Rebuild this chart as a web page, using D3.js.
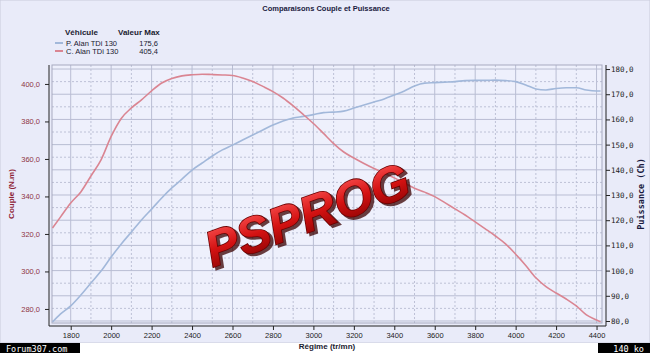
<!DOCTYPE html>
<html>
<head>
<meta charset="utf-8">
<script src="https://cdn.jsdelivr.net/npm/d3@7"></script>
<style>
  body { margin: 0; background: #e9ebf9; }
  svg { display: block; }
</style>
</head>
<body>
<div id="chart"></div>
<script>
// regime (tr/mn) and the two curves
const rpm = [1710, 1750, 1800, 1850, 1900, 1950, 2000, 2050, 2100, 2150, 2200, 2250, 2300, 2350, 2400, 2450, 2500,
    2550, 2600, 2650, 2700, 2750, 2800, 2850, 2900, 2950, 3000, 3050, 3100, 3150, 3200, 3250, 3300, 3350, 3400,
    3450, 3500, 3550, 3600, 3650, 3700, 3750, 3800, 3850, 3900, 3950, 4000, 4050, 4100, 4150, 4200, 4250, 4300,
    4350, 4400, 4420];
const couple = [323.2, 329.1, 336.5, 342.4, 350.9, 359.5, 372.0, 381.6, 387.2, 391.5, 396.3, 400.5, 402.9, 404.3,
    404.9, 405.2, 405.0, 404.8, 404.5, 403.2, 401.3, 398.7, 395.9, 392.5, 388.3, 383.7, 378.9, 373.6, 368.2, 363.7,
    360.5, 357.6, 354.9, 352.4, 349.9, 347.1, 344.4, 342.3, 339.9, 336.7, 333.4, 330.1, 326.4, 322.7, 318.9, 314.7,
    309.2, 303.2, 296.6, 291.9, 288.5, 285.3, 281.6, 276.8, 274.1, 273.1];
const puissance = [79.6, 82.8, 86.0, 90.3, 95.1, 99.8, 105.4, 110.6, 115.3, 120.1, 124.4, 128.8, 132.8, 136.3, 139.9,
    142.7, 145.5, 147.9, 149.8, 151.8, 153.8, 155.8, 157.8, 159.4, 160.6, 161.2, 161.9, 162.7, 162.9, 163.3, 164.5,
    165.7, 166.9, 168.1, 169.7, 171.3, 173.3, 174.4, 174.6, 174.8, 175.0, 175.4, 175.5, 175.5, 175.6, 175.4, 175.0,
    173.7, 172.1, 171.7, 172.3, 172.6, 172.6, 171.7, 171.3, 171.3];

const vehicules = ["P. Alan TDi 130", "C. Alan TDi 130"];
const valeursMax = ["175,6", "405,4"];

const coupleTicks = [280, 300, 320, 340, 360, 380, 400];
const puissanceTicks = [80, 90, 100, 110, 120, 130, 140, 150, 160, 170, 180];
const regimeTicks = [1800, 2000, 2200, 2400, 2600, 2800, 3000, 3200, 3400, 3600, 3800, 4000, 4200, 4400];

const width = 650;
const height = 353;
const plot = { left: 52, right: 602, top: 65, bottom: 323 };

const colPuissance = "#a2b8da";
const colCouple = "#da8592";

const x = d3.scaleLinear().domain([1707.5, 4427]).range([plot.left, plot.right]);
const yL = d3.scaleLinear().domain([272.5, 410.1]).range([plot.bottom, plot.top]);
const yR = d3.scaleLinear().domain([79.2, 181.6]).range([plot.bottom, plot.top]);

const fmt = d => d3.format(".1f")(d).replace(".", ",");
const mono = "'DejaVu Sans Mono', monospace";

const svg = d3.select("#chart")
    .append("svg")
    .attr("width", width)
    .attr("height", height)
    .style("font-family", "'Liberation Sans', Arial, sans-serif");

// background
svg.append("rect")
    .attr("width", width).attr("height", 343)
    .attr("fill", "#e9ebf9")
    .attr("stroke", "#c9cbdb");

svg.append("rect")
    .attr("x", plot.left).attr("y", plot.top)
    .attr("width", plot.right - plot.left).attr("height", plot.bottom - plot.top)
    .attr("fill", "#eef0fc");

// grid
const grid = svg.append("g");
grid.selectAll(".vs")
    .data(regimeTicks)
    .join("line")
    .attr("x1", d => x(d)).attr("x2", d => x(d))
    .attr("y1", plot.top).attr("y2", plot.bottom)
    .attr("stroke", "#b9bdd3");
grid.selectAll(".vd")
    .data(regimeTicks.map(d => d + 100).filter(d => d < 4400))
    .join("line")
    .attr("x1", d => x(d)).attr("x2", d => x(d))
    .attr("y1", plot.top).attr("y2", plot.bottom)
    .attr("stroke", "#bdc1d6")
    .attr("stroke-dasharray", "2,2");
grid.selectAll(".hs")
    .data(puissanceTicks)
    .join("line")
    .attr("x1", plot.left).attr("x2", plot.right)
    .attr("y1", d => yR(d)).attr("y2", d => yR(d))
    .attr("stroke", "#b9bdd3");
grid.selectAll(".hd")
    .data(puissanceTicks.map(d => d + 5).filter(d => d < 181))
    .join("line")
    .attr("x1", plot.left).attr("x2", plot.right)
    .attr("y1", d => yR(d)).attr("y2", d => yR(d))
    .attr("stroke", "#bdc1d6")
    .attr("stroke-dasharray", "2,2");

// frame
svg.append("rect")
    .attr("x", plot.left).attr("y", plot.top)
    .attr("width", plot.right - plot.left).attr("height", plot.bottom - plot.top)
    .attr("fill", "none")
    .attr("stroke", "#a7aac0");

// curves
const lineP = d3.line().x((d, i) => x(rpm[i])).y(d => yR(d)).curve(d3.curveMonotoneX);
const lineC = d3.line().x((d, i) => x(rpm[i])).y(d => yL(d)).curve(d3.curveMonotoneX);

svg.append("path")
    .attr("d", lineP(puissance))
    .attr("fill", "none")
    .attr("stroke", colPuissance)
    .attr("stroke-width", 1.6);

svg.append("path")
    .attr("d", lineC(couple))
    .attr("fill", "none")
    .attr("stroke", colCouple)
    .attr("stroke-width", 1.6);

// left axis (couple)
const axL = svg.append("g").attr("transform", "translate(49,0)");
axL.call(d3.axisLeft(yL).tickValues(d3.range(290, 411, 20)).tickSize(3).tickFormat("").tickSizeOuter(0));
axL.call(d3.axisLeft(yL).tickValues(coupleTicks).tickSize(4).tickFormat(fmt).tickSizeOuter(0));
axL.selectAll("text").attr("fill", "#8e3444").attr("font-size", 7.5).attr("x", -9);
axL.selectAll("line").attr("stroke", "#222");
axL.selectAll(".domain").remove();
axL.append("line").attr("y1", plot.top).attr("y2", plot.bottom + 3).attr("stroke", "#222");

// right axis (puissance)
const axR = svg.append("g").attr("transform", "translate(606,0)");
axR.call(d3.axisRight(yR).tickValues(puissanceTicks.map(d => d + 5).filter(d => d < 181)).tickSize(3).tickFormat("").tickSizeOuter(0));
axR.call(d3.axisRight(yR).tickValues(puissanceTicks).tickSize(4).tickFormat(fmt).tickSizeOuter(0));
axR.selectAll("text")
    .attr("fill", "#222")
    .attr("font-size", 7.5)
    .attr("font-family", mono)
    .attr("x", 5);
axR.selectAll("line").attr("stroke", "#222");
axR.selectAll(".domain").remove();
axR.append("line").attr("y1", plot.top).attr("y2", plot.bottom + 3).attr("stroke", "#222");

// bottom axis (regime)
const axB = svg.append("g").attr("transform", "translate(0,326)");
axB.call(d3.axisBottom(x).tickValues(regimeTicks.map(d => d + 100).filter(d => d < 4400)).tickSize(3).tickFormat("").tickSizeOuter(0));
axB.call(d3.axisBottom(x).tickValues(regimeTicks).tickSize(4).tickFormat(d3.format("d")).tickSizeOuter(0));
axB.selectAll("text").attr("fill", "#222").attr("font-size", 7.5).attr("y", 7);
axB.selectAll("line").attr("stroke", "#222");
axB.selectAll(".domain").remove();
axB.append("line").attr("x1", 49).attr("x2", 606).attr("stroke", "#222");

// axis titles
svg.append("text")
    .attr("transform", "translate(14,194) rotate(-90)")
    .attr("text-anchor", "middle")
    .attr("font-size", 8)
    .attr("font-weight", "bold")
    .attr("fill", "#8e2436")
    .text("Couple (N.m)");

svg.append("text")
    .attr("transform", "translate(644,194) rotate(-90)")
    .attr("text-anchor", "middle")
    .attr("font-size", 8.5)
    .attr("font-weight", "bold")
    .attr("font-family", mono)
    .attr("fill", "#1a1a40")
    .text("Puissance (Ch)");

svg.append("text")
    .attr("x", 327).attr("y", 349)
    .attr("text-anchor", "middle")
    .attr("font-size", 8)
    .attr("font-weight", "bold")
    .attr("fill", "#1a1a30")
    .text("Régime (tr/mn)");

// title
svg.append("text")
    .attr("x", 326).attr("y", 11)
    .attr("text-anchor", "middle")
    .attr("font-size", 7.5)
    .attr("font-weight", "bold")
    .attr("fill", "#1a1a40")
    .text("Comparaisons Couple et Puissance");

// legend
const legend = svg.append("g").attr("font-size", 7.5).attr("fill", "#1a1a30");
legend.append("text").attr("x", 65).attr("y", 35).attr("font-weight", "bold").attr("font-size", 8).text("Véhicule");
legend.append("text").attr("x", 118).attr("y", 35).attr("font-weight", "bold").attr("font-size", 8).text("Valeur Max");
const rows = legend.selectAll(".row")
    .data(vehicules)
    .join("g")
    .attr("transform", (d, i) => `translate(0,${43 + i * 8})`);
rows.append("line")
    .attr("x1", 55).attr("x2", 63)
    .attr("stroke", (d, i) => i === 0 ? colPuissance : colCouple)
    .attr("stroke-width", 2);
rows.append("text").attr("x", 66).attr("y", 3).text(d => d);
rows.append("text").attr("x", 158).attr("y", 3).attr("text-anchor", "end").text((d, i) => valeursMax[i]);

// PSPROG watermark
const defs = svg.append("defs");
const grad = defs.append("linearGradient").attr("id", "wm").attr("x1", 0).attr("y1", 0).attr("x2", 0).attr("y2", 1);
grad.append("stop").attr("offset", "0%").attr("stop-color", "#ff5a5a");
grad.append("stop").attr("offset", "50%").attr("stop-color", "#d41212");
grad.append("stop").attr("offset", "100%").attr("stop-color", "#820000");

const wm = svg.append("g").attr("transform", "translate(313,231) rotate(-20)");
wm.append("text")
    .attr("x", 2).attr("y", 3)
    .attr("text-anchor", "middle")
    .attr("font-size", 50)
    .attr("font-weight", "bold")
    .attr("font-style", "italic")
    .attr("fill", "#3a0000")
    .attr("stroke", "#3a0000")
    .attr("stroke-width", 2)
    .attr("opacity", 0.75)
    .text("PSPROG");
wm.append("text")
    .attr("text-anchor", "middle")
    .attr("font-size", 50)
    .attr("font-weight", "bold")
    .attr("font-style", "italic")
    .attr("fill", "url(#wm)")
    .attr("stroke", "#6a0000")
    .attr("stroke-width", 1.6)
    .attr("paint-order", "stroke")
    .text("PSPROG");

// host banner
svg.append("rect").attr("x", 0).attr("y", 343).attr("width", 650).attr("height", 10).attr("fill", "#fff");
svg.append("rect").attr("x", 0).attr("y", 343).attr("width", 80).attr("height", 10).attr("fill", "#000");
svg.append("rect").attr("x", 598).attr("y", 343).attr("width", 52).attr("height", 10).attr("fill", "#000");
svg.append("text")
    .attr("x", 6).attr("y", 351.5)
    .attr("font-size", 8.5)
    .attr("font-family", mono)
    .attr("fill", "#fff")
    .text("Forum307.com");
svg.append("text")
    .attr("x", 644).attr("y", 351.5)
    .attr("text-anchor", "end")
    .attr("font-size", 8.5)
    .attr("font-family", mono)
    .attr("fill", "#fff")
    .text("140 ko");

// axis title over the banner background
svg.selectAll("text").filter(function() { return this.textContent === "Régime (tr/mn)"; }).raise();
</script>
</body>
</html>
